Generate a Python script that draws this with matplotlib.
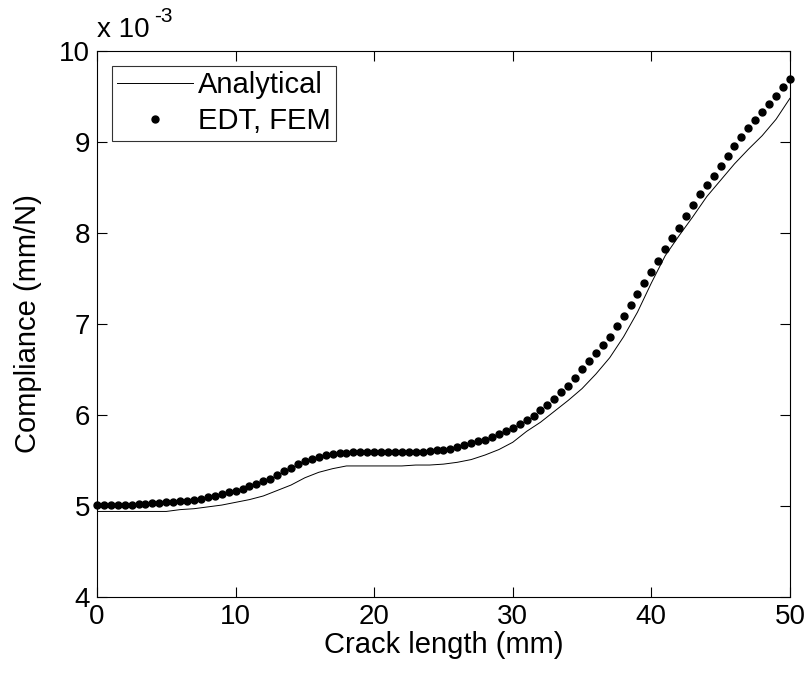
import numpy as np
import matplotlib
matplotlib.use("Agg")
import matplotlib.pyplot as plt

plt.rcParams['font.family'] = ['Liberation Sans', 'DejaVu Sans']

# crack length (mm), step 0.5
crack = np.arange(0, 50.5, 0.5)

# EDT, FEM compliance (x 1e-3 mm/N)
edt_fem = [5.01, 5.01, 5.01, 5.01, 5.01, 5.01, 5.02, 5.02, 5.03, 5.03,
           5.04, 5.04, 5.05, 5.06, 5.07, 5.08, 5.10, 5.11, 5.13, 5.15,
           5.17, 5.19, 5.22, 5.24, 5.27, 5.30, 5.34, 5.38, 5.42, 5.46,
           5.49, 5.52, 5.54, 5.56, 5.57, 5.58, 5.58, 5.59, 5.59, 5.59,
           5.59, 5.59, 5.59, 5.59, 5.59, 5.59, 5.59, 5.59, 5.60, 5.61,
           5.62, 5.63, 5.65, 5.67, 5.69, 5.71, 5.73, 5.76, 5.79, 5.82,
           5.86, 5.90, 5.94, 5.99, 6.05, 6.11, 6.18, 6.25, 6.32, 6.41,
           6.50, 6.59, 6.68, 6.77, 6.86, 6.98, 7.09, 7.21, 7.33, 7.45,
           7.57, 7.69, 7.82, 7.95, 8.06, 8.19, 8.31, 8.43, 8.53, 8.63,
           8.74, 8.85, 8.96, 9.05, 9.15, 9.24, 9.33, 9.42, 9.51, 9.60,
           9.69]

# analytical compliance (x 1e-3 mm/N), step 1 mm
crack_an = np.arange(0, 51, 1)
analytical = [4.94, 4.94, 4.94, 4.94, 4.94, 4.94, 4.96, 4.97, 4.99, 5.01,
              5.04, 5.07, 5.11, 5.17, 5.23, 5.31, 5.37, 5.41, 5.44, 5.44,
              5.44, 5.44, 5.44, 5.45, 5.45, 5.46, 5.48, 5.51, 5.56, 5.62,
              5.70, 5.82, 5.92, 6.04, 6.16, 6.29, 6.45, 6.63, 6.86, 7.13,
              7.45, 7.75, 7.97, 8.18, 8.40, 8.58, 8.76, 8.92, 9.07, 9.25,
              9.48]

fig = plt.figure(figsize=(8.11, 6.75), dpi=100)
ax = fig.add_axes([0.1196, 0.1156, 0.8544, 0.8088])

ax.plot(crack_an, analytical, color='black', lw=0.7, label='Analytical')
ax.plot(crack, edt_fem, 'o', color='black', markersize=5, label='EDT, FEM',
        clip_on=False)

ax.set_xlim(0, 50)
ax.set_ylim(4, 10)
ax.set_xticks([0, 10, 20, 30, 40, 50])
ax.set_yticks([4, 5, 6, 7, 8, 9, 10])
ax.tick_params(direction='in', top=True, right=True, length=7, width=0.8,
               labelsize=20, pad=5)
for s in ax.spines.values():
    s.set_linewidth(0.8)

ax.set_xlabel('Crack length (mm)', fontsize=21, labelpad=1)
ax.set_ylabel('Compliance (mm/N)', fontsize=21, labelpad=12)

# exponent label like the original: "x 10" with raised "-3"
ax.text(0.0, 1.015, 'x 10', transform=ax.transAxes, fontsize=20,
        ha='left', va='bottom')
ax.text(0.082, 1.045, '-3', transform=ax.transAxes, fontsize=15,
        ha='left', va='bottom')

leg = ax.legend(loc='upper left', fontsize=21, frameon=True, fancybox=False,
                edgecolor='black', handlelength=2.6, handletextpad=0.15,
                borderpad=0.2, labelspacing=0.25, borderaxespad=0.5,
                numpoints=1)
leg.get_frame().set_linewidth(0.8)

fig.savefig('out.png', dpi=100)
